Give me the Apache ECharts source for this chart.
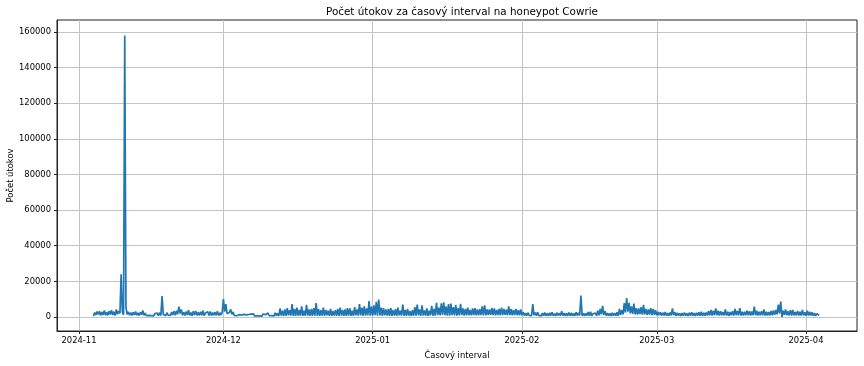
<!DOCTYPE html>
<html>
<head>
<meta charset="utf-8">
<script src="https://cdn.jsdelivr.net/npm/echarts@6/dist/echarts.min.js"></script>
<style>
html,body{margin:0;padding:0;background:#fff;}
#chart{width:864px;height:366px;}
</style>
</head>
<body>
<div id="chart"></div>
<script>
// Series start (UTC) and sampling step
const startDate = '2024-11-04T00:00:00Z';
const stepHours = 6;

// Attack counts, 4 samples per day (00, 06, 12, 18 h), 2024-11-04 .. 2025-04-03
const attacks = [
  // Nov 4 - Nov 30
  400,2500,1200,3000, 1500,3200,900,2800, 1200,3600,1000,2600, 900,3300,1400,3800,
  1100,3000,800,4200, 1500,3400,2000,24000, 3000,1200,158000,5500, 1500,2800,1000,2400,
  900,2600,1200,3100, 1000,2300,800,2700, 1300,3600,1000,2200, 700,1800,900,1500,
  800,1600,600,1900, 900,2200,700,2500, 800,11800,1500,2000, 700,2400,1000,2000,
  900,2800,1200,3200, 1000,3500,1500,5800, 2000,4200,1000,2600, 800,3000,1100,3800,
  900,2500,700,3200, 1100,3400,900,2600, 800,3000,1000,3600, 700,2200,1200,2900,
  900,3100,800,2500, 1000,2700,900,3300, 800,2400,1100,2800,
  // Dec 1 - Dec 31
  10000,3000,7200,2000, 1200,2500,4300,1500, 2800,900,1400,700, 600,1300,500,1100,
  700,1500,600,1200, 500,1400,700,1600, 600,1800,500,1300, 700,1200,600,1500,
  500,1700,800,1300, 600,2200,700,1400, 800,1600,600,2400, 700,2000,600,4800,
  800,3500,600,4200, 700,5000,900,3800, 800,7200,600,4500, 600,5200,800,4000,
  700,6000,600,3600, 700,6800,800,4200, 600,4500,700,5000, 800,7800,600,4400,
  600,3800,800,5200, 600,4000,900,3500, 700,4500,600,3200, 800,3800,600,4600,
  600,5200,800,3900, 700,4300,600,5000, 800,4800,700,3600, 600,5600,900,4200,
  800,7200,900,5200, 700,6000,800,4800, 900,9000,700,5800,
  // Jan 1 - Jan 31
  800,6500,1000,8500, 700,9800,900,5200, 700,5000,900,4200, 800,4600,700,5000,
  700,3800,800,4400, 700,5200,900,3600, 800,7000,700,4000, 700,4500,800,3200,
  600,3800,700,5500, 700,7000,900,4300, 700,6600,800,3700, 800,4800,700,3500,
  900,6200,700,4500, 800,8000,1000,5200, 900,7600,1100,8200, 1000,6000,800,7200,
  800,7500,1000,5500, 900,6800,800,5000, 900,7400,1100,4800, 800,4500,900,5300,
  1000,4000,900,4800, 1100,5000,900,4200, 1000,4400,1100,6000, 900,6500,1000,4300,
  1100,4200,1200,5000, 1000,4800,900,4000, 1100,4500,1000,5200, 1100,4600,1200,4100,
  1000,6000,1100,4400, 900,4000,1100,4600, 1000,3800,900,4200,
  // Feb 1 - Feb 28
  1000,2800,800,2200, 700,2400,900,2000, 800,7200,1000,2500, 700,2600,900,1800,
  600,2200,800,2500, 700,2000,600,2300, 800,2600,700,1900, 600,2400,900,2100,
  700,3200,800,2200, 600,2000,700,2500, 800,2300,600,2000, 700,2600,800,2400,
  900,12000,700,2000, 600,2000,800,2800, 700,3000,600,1800, 800,2200,700,3500,
  900,4500,1500,6200, 1200,3200,800,2200, 700,2000,600,2400, 800,2200,700,2600,
  600,4500,1200,3800, 1500,7800,2500,10600, 3000,8000,2000,6000, 1800,7500,1500,5000,
  1400,4800,1600,5500, 1300,6800,1500,4500, 1200,4200,1400,5000, 1100,4600,1200,3800,
  // Mar 1 - Mar 31
  900,3000,1000,2600, 800,2400,900,2800, 700,2200,800,2500, 900,4800,1000,2600,
  700,2400,800,2000, 600,2200,700,2500, 700,2000,600,2400, 800,2600,700,2200,
  600,2300,800,2700, 700,3000,600,2400, 800,2500,900,3200, 900,4000,800,3500,
  1000,4800,900,3600, 800,3200,1000,2800, 900,4200,800,3000, 700,2800,900,3300,
  800,4600,1000,3400, 900,5000,800,3000, 800,2900,1000,3600, 900,3300,800,3100,
  1000,5800,900,3500, 800,3000,1000,3300, 900,4200,800,3000, 800,2800,900,3400,
  1000,3600,1200,4000, 1500,7000,2000,8600, 0,3500,1200,4200, 1000,3200,900,3800,
  800,4000,900,2800, 900,3400,800,3000, 800,4000,900,2600,
  // Apr 1 - Apr 3
  700,3600,800,3000, 800,2600,700,2200, 600,1800,700,900
];

const monthTicks = ['2024-11','2024-12','2025-01','2025-02','2025-03','2025-04'];
const yTicks = [0,20000,40000,60000,80000,100000,120000,140000,160000];

const DAY = 86400000;
const t0 = Date.parse(startDate);
const seriesData = attacks.map((v, i) => [t0 + i * stepHours * 3600000, v]);
const monthTs = monthTicks.map(s => Date.UTC(+s.slice(0,4), +s.slice(5,7) - 1, 1));
const pad2 = n => (n < 10 ? '0' : '') + n;

const FONT = 'DejaVu Sans';
const TICK_FS = 8.4;
const chart = echarts.init(document.getElementById('chart'), null, {renderer: 'canvas'});
chart.setOption({
  animation: false,
  backgroundColor: '#ffffff',
  title: {
    text: 'Počet útokov za časový interval na honeypot Cowrie',
    left: 457, top: 2, textAlign: 'center',
    textStyle: {fontFamily: FONT, fontSize: 10.4, fontWeight: 'normal', color: '#000'}
  },
  grid: {
    left: 57, right: 7, top: 20, bottom: 35,
    outerBoundsMode: 'none', containLabel: false,
    show: true, borderColor: '#222', borderWidth: 1, backgroundColor: 'transparent'
  },
  xAxis: {
    type: 'value',
    min: monthTs[0] - 4.569 * DAY,
    max: monthTs[5] + 10.59 * DAY,
    name: 'Časový interval',
    nameLocation: 'middle',
    nameGap: 21,
    nameMoveOverlap: false,
    nameTextStyle: {fontFamily: FONT, fontSize: TICK_FS, color: '#000'},
    axisLine: {show: true, onZero: false, lineStyle: {color: '#222', width: 1}},
    axisTick: {show: true, customValues: monthTs, length: 3, lineStyle: {color: '#222'}},
    axisLabel: {
      customValues: monthTs, margin: 6,
      fontFamily: FONT, fontSize: TICK_FS, color: '#000',
      formatter: v => { const d = new Date(v); return d.getUTCFullYear() + '-' + pad2(d.getUTCMonth() + 1); }
    },
    splitLine: {show: true, lineStyle: {color: '#c4c4c4', width: 1}}
  },
  yAxis: {
    type: 'value',
    min: -7860, max: 166700,
    name: 'Počet útokov',
    nameLocation: 'middle',
    nameGap: 42,
    nameMoveOverlap: false,
    nameTextStyle: {fontFamily: FONT, fontSize: TICK_FS, color: '#000'},
    axisLine: {show: true, onZero: false, lineStyle: {color: '#222', width: 1}},
    axisTick: {show: true, customValues: yTicks, length: 3, lineStyle: {color: '#222'}},
    axisLabel: {
      customValues: yTicks, margin: 6,
      fontFamily: FONT, fontSize: TICK_FS, color: '#000',
      formatter: v => String(v)
    },
    splitLine: {show: true, lineStyle: {color: '#c4c4c4', width: 1}}
  },
  series: [{
    type: 'line',
    data: seriesData,
    showSymbol: false,
    symbol: 'none',
    lineStyle: {color: '#1f77b4', width: 1.7},
    itemStyle: {color: '#1f77b4'},
    silent: true
  }]
});
</script>
</body>
</html>
